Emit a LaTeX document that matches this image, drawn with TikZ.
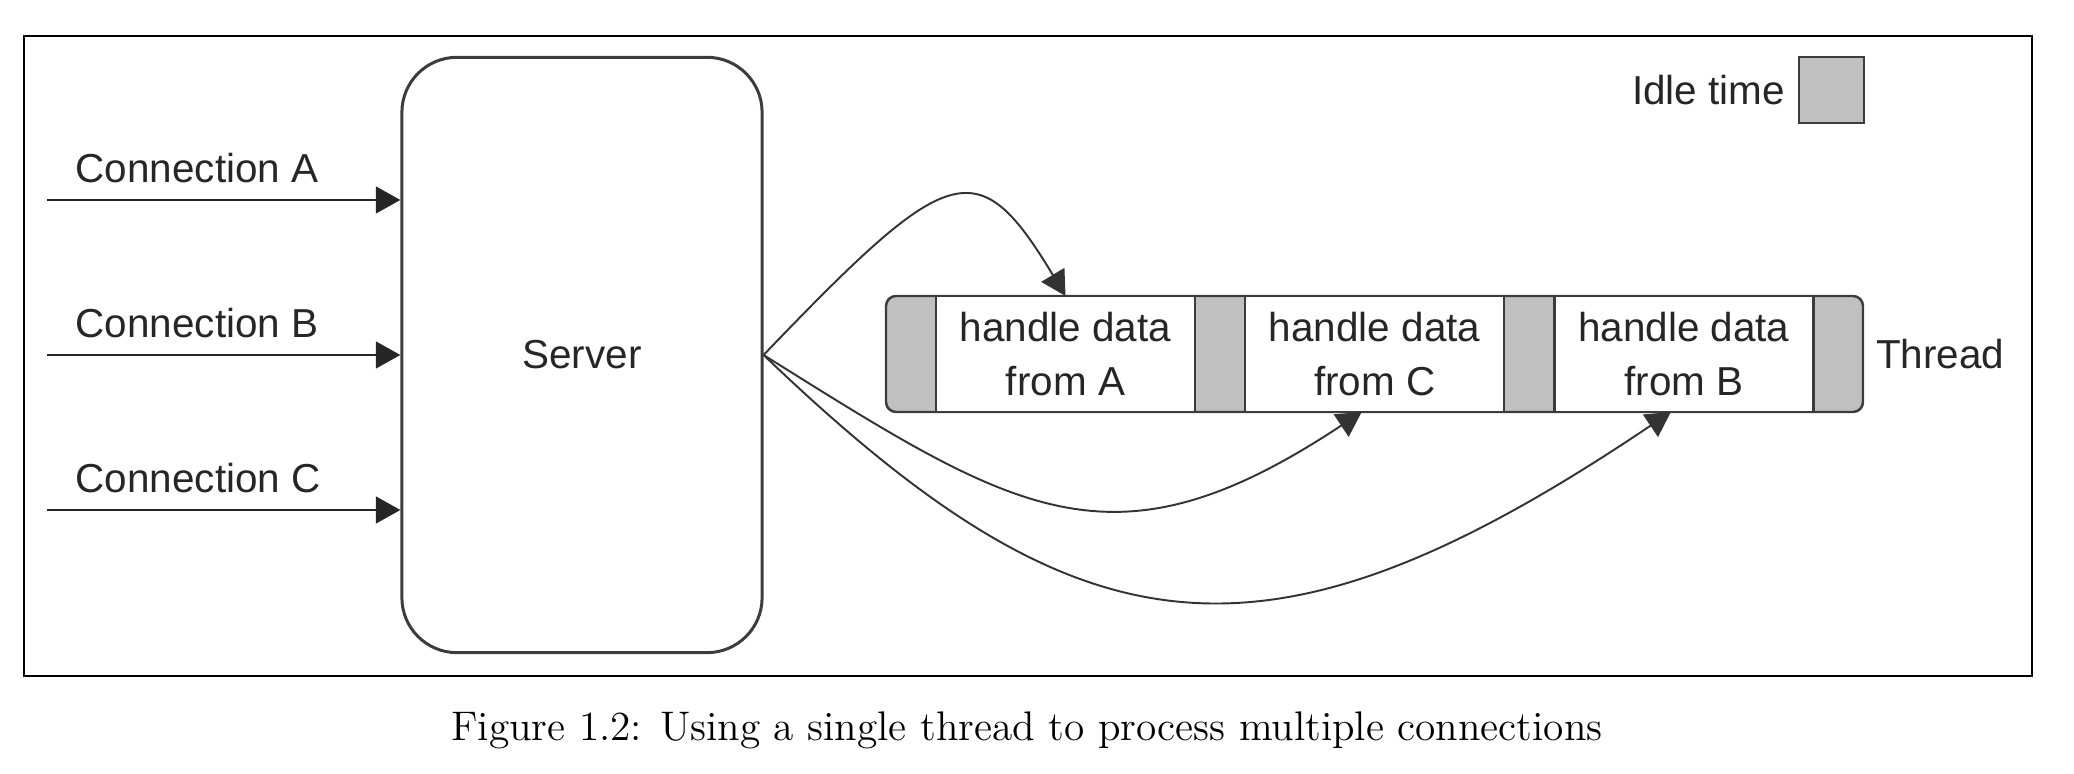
\documentclass[tikz,border=0pt]{standalone}
\usepackage{fontspec}
\setsansfont{Liberation Sans}
\usetikzlibrary{arrows.meta,positioning}

\definecolor{idlegray}{RGB}{192,192,192}
\definecolor{linegray}{RGB}{60,60,60}

\tikzset{
  lbl/.style={font=\sffamily\fontsize{11.5}{15.2}\selectfont, text=black!85, inner sep=0pt},
  conn/.style={draw=black!85, line width=0.75pt, -{Triangle[length=7pt,width=7.6pt]}},
  hop/.style={draw=black!80, line width=0.55pt, -{Triangle[length=7pt,width=7.6pt]}},
  work/.style={lbl, draw=linegray, line width=0.7pt, fill=white, align=center,
    minimum width=2.59cm, minimum height=1.16cm, outer sep=0pt}
}

\begin{document}
\begin{tikzpicture}[x=0.01cm, y=-0.01cm]
  \useasboundingbox (0,0) rectangle (2074,774);
  \draw[line width=0.7pt] (24,36) rectangle (2032,676);

  % Server
  \node[lbl, draw=linegray, line width=0.85pt, rounded corners=0.55cm,
    minimum width=3.6cm, minimum height=5.95cm] (srv) at (582,355) {Server};

  % Connections
  \foreach \c/\y in {A/200, B/355, C/510}{
    \coordinate (in\c) at (47,\y);
    \draw[conn] (in\c) -- (in\c -| srv.west);
    \node[lbl, anchor=base west] (lbl\c) at (75,\y-17) {Connection \c};
  }

  % Thread
  \draw[draw=linegray, line width=0.7pt, fill=idlegray, rounded corners=0.1cm]
    (886,296) rectangle (1863,412);
  \node[work] (segA) at (1065.5,354) {handle data\\from A};
  \node[work, right=0.5cm of segA] (segC) {handle data\\from C};
  \node[work, right=0.5cm of segC] (segB) {handle data\\from B};
  \node[lbl, right=0.62cm of segB] (thread) {Thread};

  % Legend
  \node[draw=linegray, line width=0.7pt, fill=idlegray, minimum width=0.65cm,
    minimum height=0.66cm] (idlekey) at (1831.5,90) {};
  \node[lbl, left=0.12cm of idlekey] (idletxt) {Idle time};

  % Edges
  \draw[hop] (srv.east) .. controls +(186,-194) and +(-88,-146) .. (segA.north);
  \draw[hop] (srv.east) .. controls +(254,159) and +(-249,165) .. ([xshift=-0.13cm]segC.south);
  \draw[hop] (srv.east) .. controls +(317,304) and +(-407,274) .. ([xshift=-0.13cm]segB.south);

  \node[font=\rmfamily\fontsize{11.76}{14}\selectfont] (cap) at (1027,730)
    {Figure 1.2: Using a single thread to process multiple connections};
\end{tikzpicture}
\end{document}
